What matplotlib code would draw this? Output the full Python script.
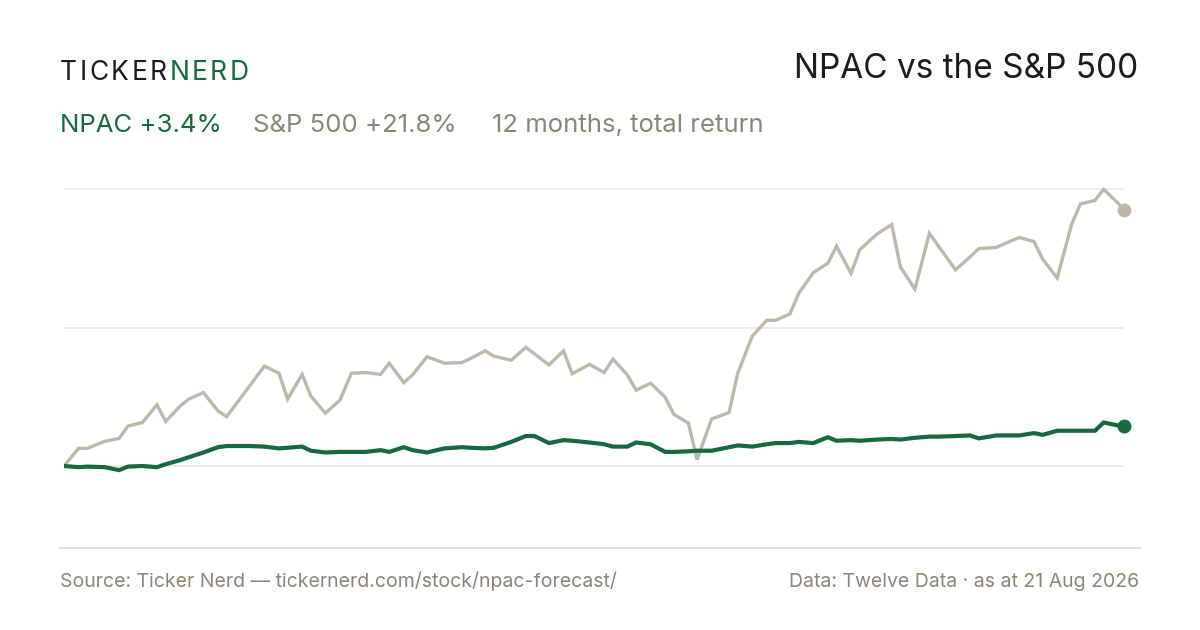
"""NPAC vs the S&P 500, 12 month total return"""

import matplotlib
matplotlib.use('Agg')
import matplotlib.pyplot as plt
from matplotlib.lines import Line2D
import pandas as pd

W, H = 1200, 630

START = '2025-08-21'
END = '2026-08-21'
MARKET_HOLIDAYS = ['2025-09-01', '2025-11-27', '2025-12-25', '2026-01-01', '2026-01-19',
                   '2026-02-16', '2026-04-03', '2026-05-25', '2026-06-19', '2026-07-03']

# total return in %, sampled every third trading day plus the last close
npac = [0.0, -0.1, -0.05, -0.1, -0.35, -0.05, 0.0, -0.1, 0.15, 0.5,
        0.75, 1.15, 1.6, 1.7, 1.7, 1.7, 1.65, 1.5, 1.55, 1.65,
        1.3, 1.15, 1.2, 1.2, 1.2, 1.35, 1.2, 1.6, 1.35, 1.15,
        1.5, 1.6, 1.55, 1.5, 1.55, 2.05, 2.55, 2.55, 1.95, 2.2,
        2.15, 2.0, 1.85, 1.65, 1.65, 2.0, 1.85, 1.2, 1.2, 1.25,
        1.3, 1.3, 1.6, 1.75, 1.65, 1.85, 1.95, 1.95, 2.05, 1.95,
        2.45, 2.15, 2.2, 2.15, 2.25, 2.3, 2.25, 2.4, 2.5, 2.5,
        2.55, 2.6, 2.35, 2.6, 2.6, 2.6, 2.8, 2.65, 3.0, 3.0,
        3.0, 3.0, 3.7, 3.45, 3.4]
sp500 = [0.0, 1.5, 1.5, 2.1, 2.35, 3.4, 3.7, 5.2, 3.8, 5.1,
         5.7, 6.25, 4.7, 4.2, 5.85, 6.85, 8.5, 7.9, 5.7, 7.8,
         5.95, 4.5, 5.6, 7.9, 7.95, 7.8, 8.75, 7.1, 7.75, 9.3,
         8.75, 8.8, 9.15, 9.8, 9.35, 9.0, 10.1, 9.55, 8.6, 9.8,
         7.85, 8.65, 7.95, 9.1, 7.75, 6.45, 7.05, 5.85, 4.4, 3.65,
         0.55, 4.0, 4.55, 7.9, 11.05, 12.4, 12.4, 12.95, 14.7, 16.45,
         17.25, 18.7, 16.4, 18.4, 19.75, 20.55, 16.95, 15.05, 19.8, 18.75,
         16.7, 17.8, 18.5, 18.6, 19.15, 19.45, 19.1, 17.6, 16.0, 20.6,
         22.3, 22.6, 23.55, 22.35, 21.8]

GREEN = '#17693f'
GREY_LINE = '#bdb7ab'
GREY_TEXT = '#8a8676'
DARK = '#1c1c1c'

trading = pd.bdate_range(START, END)
trading = trading[~trading.isin(pd.to_datetime(MARKET_HOLIDAYS))]
dates = trading[::3]
if dates[-1] != trading[-1]:
    dates = dates.append(trading[-1:])

plt.rcParams['font.family'] = ['Inter', 'DejaVu Sans']

fig = plt.figure(figsize=(W / 100, H / 100), dpi=100)
fig.patch.set_facecolor('white')


def fx(x):
    return x / W


def fy(y):
    return 1 - y / H


# plot area: x 64..1124 px, y 180..548 px
ax = fig.add_axes([fx(64), fy(548), fx(1124) - fx(64), fy(180) - fy(548)])
scale = 11.75  # px per percentage point
ax.set_ylim((466 - 548) / scale, (466 - 180) / scale)
ax.set_xlim(dates[0], dates[-1])
for s in ax.spines.values():
    s.set_visible(False)
ax.set_xticks([])
ax.set_yticks([])

top = max(sp500)
for g in (0, top / 2, top):
    ax.axhline(g, color='#ece9e3', lw=1.2, zorder=1)

ax.plot(dates, sp500, color=GREY_LINE, lw=2.4, solid_joinstyle='miter', zorder=3)
ax.plot(dates, npac, color=GREEN, lw=3.0, solid_joinstyle='miter', zorder=4)
ax.plot(dates[-1:], sp500[-1:], 'o', color=GREY_LINE, ms=9, zorder=5, clip_on=False)
ax.plot(dates[-1:], npac[-1:], 'o', color=GREEN, ms=9, zorder=6, clip_on=False)

fig.add_artist(Line2D([fx(60), fx(1140)], [fy(548), fy(548)], color='#dedad0', lw=1.2))

# brand mark with letter spacing
renderer = fig.canvas.get_renderer()
x = 60
for i, ch in enumerate('TICKERNERD'):
    t = fig.text(fx(x), fy(79.5), ch, fontsize=19, color=DARK if i < 6 else GREEN,
                 va='baseline', ha='left')
    x += t.get_window_extent(renderer).width + 2.5

fig.text(fx(1138), fy(78.5), 'NPAC vs the S&P 500', fontsize=24, color=DARK,
         ha='right', va='baseline')

fig.text(fx(60), fy(132.5), 'NPAC +3.4%', fontsize=18.5, color=GREEN, va='baseline')
fig.text(fx(253), fy(132.5), 'S&P 500 +21.8%', fontsize=18.5, color=GREY_TEXT, va='baseline')
fig.text(fx(492), fy(132.5), '12 months, total return', fontsize=18.5, color=GREY_TEXT,
         va='baseline')

fig.text(fx(60), fy(587), 'Source: Ticker Nerd \u2014 tickernerd.com/stock/npac-forecast/',
         fontsize=14, color=GREY_TEXT, va='baseline')
fig.text(fx(1139), fy(587), 'Data: Twelve Data \u00b7 as at 21 Aug 2026',
         fontsize=14, color=GREY_TEXT, va='baseline', ha='right')

fig.savefig('out.png', dpi=100, facecolor='white')
